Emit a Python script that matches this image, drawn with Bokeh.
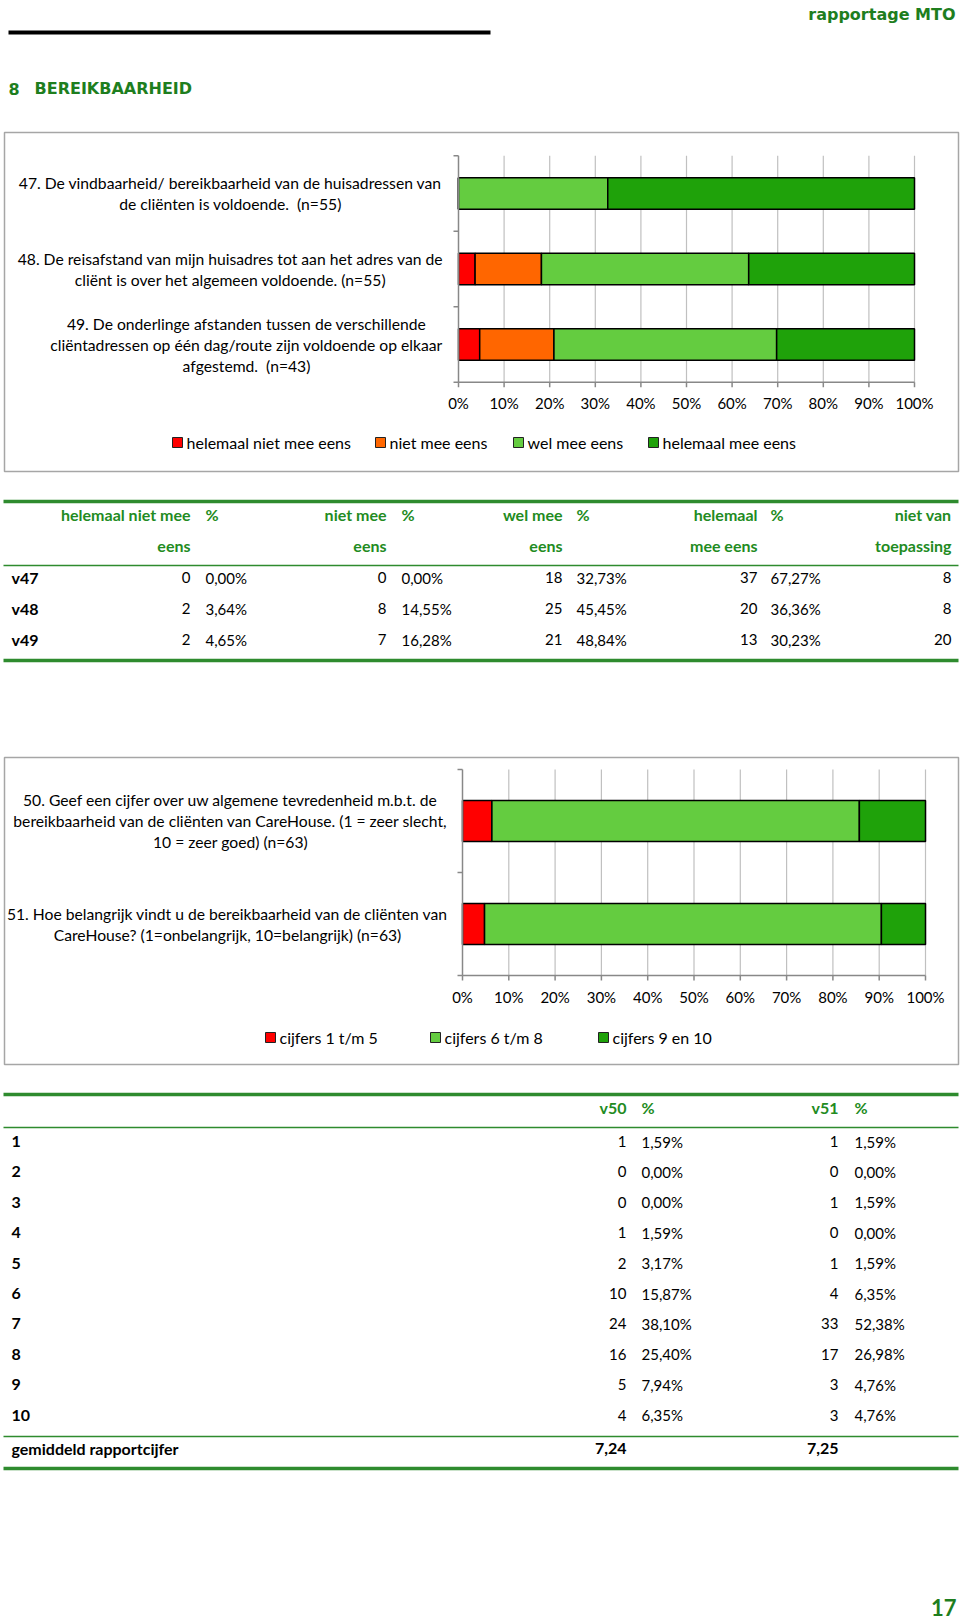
from bokeh.plotting import figure
from bokeh.models import Range1d
from bokeh.core.properties import value
from bokeh.embed import file_html
from bokeh.resources import INLINE

# ---------------- data ----------------
q1_labels = [
    ["47. De vindbaarheid/ bereikbaarheid van de huisadressen van", "de cliënten is voldoende. \u00a0(n=55)"],
    ["48. De reisafstand van mijn huisadres tot aan het adres van de", "cliënt is over het algemeen voldoende. (n=55)"],
    ["49. De onderlinge afstanden tussen de verschillende",
     "cliëntadressen op één dag/route zijn voldoende op elkaar", "afgestemd. \u00a0(n=43)"],
]
q1_vars = ["v47", "v48", "v49"]
q1_series = ["helemaal niet mee eens", "niet mee eens", "wel mee eens", "helemaal mee eens"]
q1_counts = [[0, 2, 2], [0, 8, 7], [18, 25, 21], [37, 20, 13]]
q1_pct = [[0.00, 3.64, 4.65], [0.00, 14.55, 16.28], [32.73, 45.45, 48.84], [67.27, 36.36, 30.23]]
q1_nvt = [8, 8, 20]
q1_headers = [["helemaal niet mee", "eens"], ["niet mee", "eens"], ["wel mee", "eens"], ["helemaal", "mee eens"]]
nvt_header = ["niet van", "toepassing"]

q2_labels = [
    ["50. Geef een cijfer over uw algemene tevredenheid m.b.t. de",
     "bereikbaarheid van de cliënten van CareHouse. (1 = zeer slecht,", "10 = zeer goed) (n=63)"],
    ["51. Hoe belangrijk vindt u de bereikbaarheid van de cliënten van",
     "CareHouse? (1=onbelangrijk, 10=belangrijk) (n=63)"],
]
q2_vars = ["v50", "v51"]
grades = ["1", "2", "3", "4", "5", "6", "7", "8", "9", "10"]
v50_counts = [1, 0, 0, 1, 2, 10, 24, 16, 5, 4]
v50_pct = [1.59, 0.00, 0.00, 1.59, 3.17, 15.87, 38.10, 25.40, 7.94, 6.35]
v51_counts = [1, 0, 1, 0, 1, 4, 33, 17, 3, 3]
v51_pct = [1.59, 0.00, 1.59, 0.00, 1.59, 6.35, 52.38, 26.98, 4.76, 4.76]
means = [7.24, 7.25]
q2_series = ["cijfers 1 t/m 5", "cijfers 6 t/m 8", "cijfers 9 en 10"]
q2_groups = [(1, 5), (6, 8), (9, 10)]
pct_ticks = [0, 10, 20, 30, 40, 50, 60, 70, 80, 90, 100]

# ---------------- style ----------------
W, H = 960, 1621
FONT = value("Lato")
HEAD_FONT = value("DejaVu Sans")
C_RED, C_ORANGE, C_LGREEN, C_DGREEN = "#FF0000", "#FF6600", "#64CC40", "#1FA20A"
q1_colors = [C_RED, C_ORANGE, C_LGREEN, C_DGREEN]
q2_colors = [C_RED, C_LGREEN, C_DGREEN]
TITLE_GREEN = "#1E7E1E"
TABLE_GREEN = "#228B22"
LINE_GREEN = "#2E8B2E"
GRID = "#C0C0C0"
AXIS = "#888888"


def fmt_pct(v):
    return f"{v:.2f}%".replace(".", ",")


def fmt_num(v):
    return f"{v:.2f}".replace(".", ",")


p = figure(width=W, height=H, x_range=Range1d(0, W), y_range=Range1d(H, 0),
           x_axis_type=None, y_axis_type=None, output_backend="svg",
           toolbar_location=None, min_border=0)
p.grid.visible = False
p.outline_line_color = None
p.background_fill_color = "white"


def txt(x, y, t, size="15px", align="left", color="black", bold=False, font=FONT, **kw):
    p.text(x=x, y=y, text=t, text_font=font, text_font_size=size, text_align=align,
           text_baseline="middle", text_color=color,
           text_font_style="bold" if bold else "normal", **kw)


# ---------------- page header ----------------
txt([955], [14], ["rapportage MTO"], size="16px", align="right", color=TITLE_GREEN, bold=True, font=HEAD_FONT)
p.segment(x0=[8], y0=[32], x1=[490], y1=[32], line_color="black", line_width=4)
txt([8], [88], ["8"], size="16px", color=TITLE_GREEN, bold=True, font=HEAD_FONT)
txt([34], [88], ["BEREIKBAARHEID"], size="16px", color=TITLE_GREEN, bold=True, font=HEAD_FONT)


# ---------------- chart helper ----------------
def chart(name, box, px0, px100, yc0, step, bar_h, labels, label_cx, series_vals, colors,
          series_names, legend_x, legend_y):
    sx = (px100 - px0) / 100.0
    xr, yr = name + "x", name + "y"
    p.extra_x_ranges[xr] = Range1d(-px0 / sx, (W - px0) / sx)
    p.extra_y_ranges[yr] = Range1d((H - yc0) / step, -yc0 / step)
    n = len(labels)
    # box
    l, r, t, b = box
    p.quad(left=[l], right=[r], top=[t], bottom=[b], fill_color=None,
           line_color="#A6A6A6", line_width=1.5)
    top, bot = -0.5, n - 0.5
    # gridlines
    p.segment(x0=pct_ticks[1:], x1=pct_ticks[1:], y0=[top] * 10, y1=[bot] * 10,
              line_color=GRID, line_width=1.2, x_range_name=xr, y_range_name=yr)
    # bars
    cum = [0.0] * n
    for vals, col in zip(series_vals, colors):
        left = list(cum)
        right = [c + v for c, v in zip(cum, vals)]
        p.hbar(y=list(range(n)), left=left, right=right, height=bar_h, fill_color=col,
               line_color="black", line_width=1.5, x_range_name=xr, y_range_name=yr)
        cum = right
    # axes
    p.segment(x0=[0], x1=[0], y0=[top], y1=[bot], line_color=AXIS, line_width=1.5,
              x_range_name=xr, y_range_name=yr)
    p.segment(x0=[0], x1=[100], y0=[bot], y1=[bot], line_color=AXIS, line_width=1.5,
              x_range_name=xr, y_range_name=yr)
    bounds = [i - 0.5 for i in range(n + 1)]
    p.segment(x0=[0] * len(bounds), x1=[-5 / sx] * len(bounds), y0=bounds, y1=bounds,
              line_color=AXIS, line_width=1.5, x_range_name=xr, y_range_name=yr)
    p.segment(x0=pct_ticks, x1=pct_ticks, y0=[bot] * 11, y1=[bot + 5 / step] * 11,
              line_color=AXIS, line_width=1.5, x_range_name=xr, y_range_name=yr)
    txt(pct_ticks, [bot + 21 / step] * 11, [f"{t}%" for t in pct_ticks], align="center",
        x_range_name=xr, y_range_name=yr)
    # category labels
    for i, lines in enumerate(labels):
        m = len(lines)
        ys = [i + (k - (m - 1) / 2) * 21 / step for k in range(m)]
        txt([label_cx[i]] * m, ys, lines, size="15.7px", align="center", y_range_name=yr)
    # legend
    p.rect(x=legend_x, y=[legend_y] * len(legend_x), width=10, height=10, fill_color=colors,
           line_color="#222222", line_width=1)
    txt([x + 9 for x in legend_x], [legend_y] * len(legend_x), series_names, size="16px")


# chart 1
chart("c1", (4, 958, 132, 471), 458, 914, 193, 75.5, 0.42, q1_labels, [230, 230, 246],
      q1_pct, q1_colors, q1_series, [177, 380, 518, 653], 442)

# chart 2 values from grade counts
q2_counts = [v50_counts, v51_counts]
q2_vals = []
for lo, hi in q2_groups:
    q2_vals.append([sum(c[lo - 1:hi]) / sum(c) * 100 for c in q2_counts])
chart("c2", (4, 958, 757, 1064), 462, 925, 820.5, 103, 0.40, q2_labels, [230, 227],
      q2_vals, q2_colors, q2_series, [270, 435, 603], 1037)

# ---------------- table 1 ----------------
t1_num_x = [190, 386, 562, 757]
t1_pct_x = [205, 401, 576, 770]
t1_nvt_x = 951
t1_head_y = [514, 545]
t1_row_y = [577, 608, 639]
p.segment(x0=[3, 3, 3], x1=[958, 958, 958], y0=[501, 565, 660], y1=[501, 565, 660],
          line_color=LINE_GREEN, line_width=[3.5, 1.5, 3.5])
for k in range(2):
    txt(t1_num_x, [t1_head_y[k]] * 4, [h[k] for h in q1_headers], size="16px", align="right",
        color=TABLE_GREEN, bold=True)
    txt([t1_nvt_x], [t1_head_y[k]], [nvt_header[k]], size="16px", align="right",
        color=TABLE_GREEN, bold=True)
txt(t1_pct_x, [t1_head_y[0]] * 4, ["%"] * 4, size="16px", color=TABLE_GREEN, bold=True)
txt([11] * 3, t1_row_y, q1_vars, size="16px", bold=True)
for j in range(4):
    txt([t1_num_x[j]] * 3, t1_row_y, [str(c) for c in q1_counts[j]], align="right")
    txt([t1_pct_x[j]] * 3, t1_row_y, [fmt_pct(v) for v in q1_pct[j]])
txt([t1_nvt_x] * 3, t1_row_y, [str(v) for v in q1_nvt], align="right")

# ---------------- table 2 ----------------
t2_num_x = [626, 838]
t2_pct_x = [641, 854]
t2_head_y = 1107
t2_row_y = [1141 + 30.4 * i for i in range(len(grades))]
t2_mean_y = 1448
p.segment(x0=[3] * 4, x1=[958] * 4, y0=[1094, 1127, 1436, 1468], y1=[1094, 1127, 1436, 1468],
          line_color=LINE_GREEN, line_width=[3.5, 1.5, 1.5, 3.5])
txt(t2_num_x, [t2_head_y] * 2, q2_vars, size="16px", align="right", color=TABLE_GREEN, bold=True)
txt(t2_pct_x, [t2_head_y] * 2, ["%", "%"], size="16px", color=TABLE_GREEN, bold=True)
txt([11] * len(grades), t2_row_y, grades, size="16px", bold=True)
for j, (cnts, pcts) in enumerate([(v50_counts, v50_pct), (v51_counts, v51_pct)]):
    txt([t2_num_x[j]] * len(grades), t2_row_y, [str(c) for c in cnts], align="right")
    txt([t2_pct_x[j]] * len(grades), t2_row_y, [fmt_pct(v) for v in pcts])
txt([11], [t2_mean_y], ["gemiddeld rapportcijfer"], size="16px", bold=True)
txt(t2_num_x, [t2_mean_y] * 2, [fmt_num(m) for m in means], size="16px", align="right", bold=True)

# page number
txt([956], [1607], ["17"], size="22px", align="right", color=TITLE_GREEN, bold=True)

open("out.html", "w").write(file_html(p, INLINE))
